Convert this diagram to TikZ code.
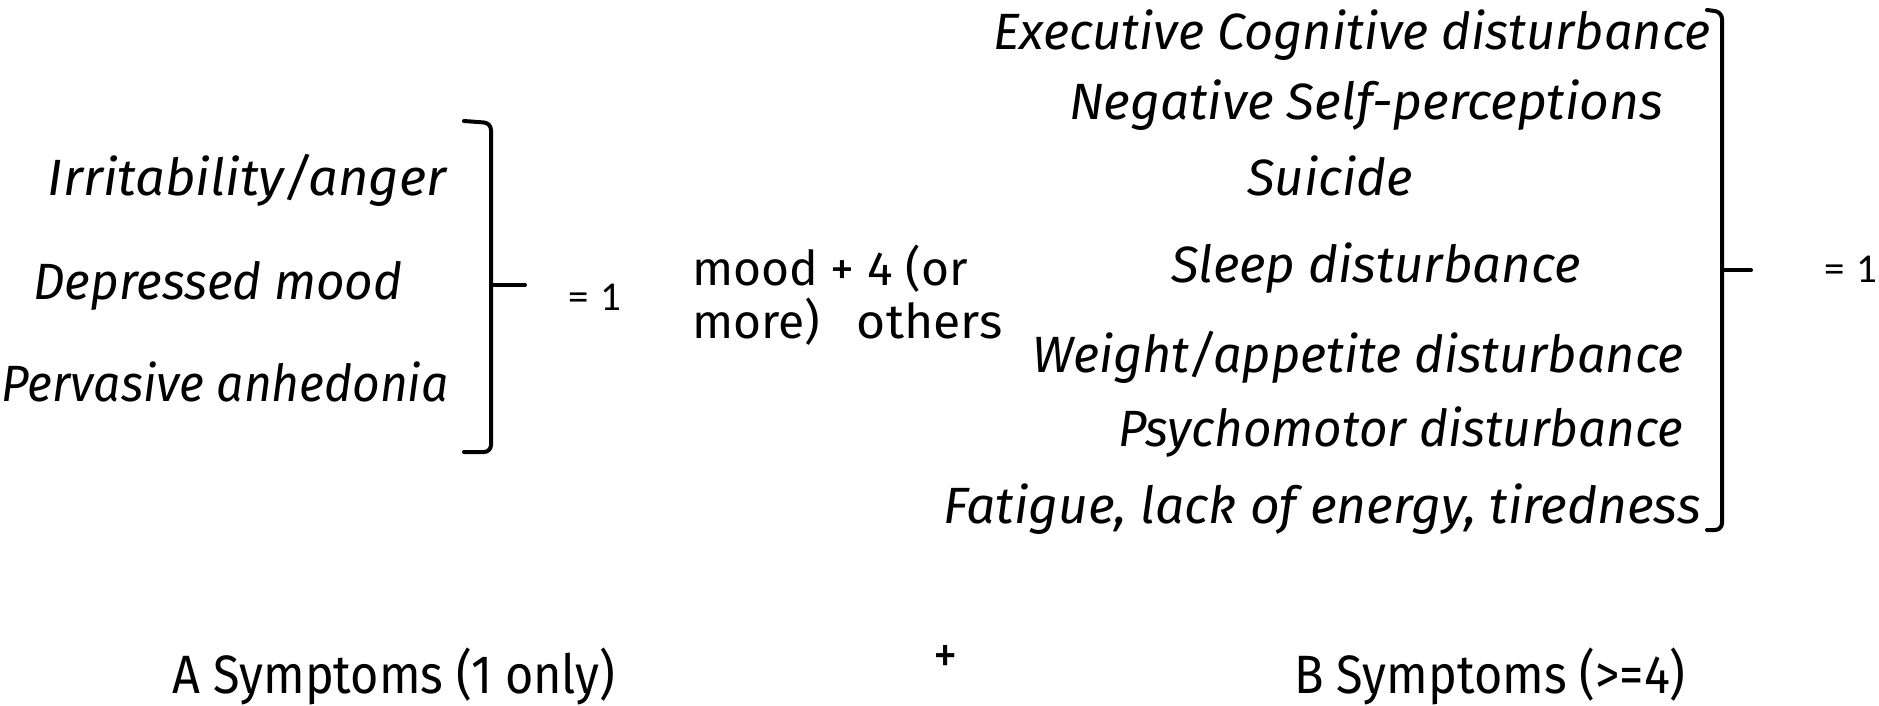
\documentclass[tikz,border=0pt]{standalone}
\usepackage{fontspec}
\setmainfont{Fira Sans}
\newfontfamily\numfont{Carlito}
\begin{document}
\begin{tikzpicture}[x=1pt,y=-1pt,
  item/.style={font=\fontsize{51}{58}\selectfont\itshape, inner sep=0pt, anchor=mid},
  eqlabel/.style={font=\numfont\fontsize{41}{46}\selectfont, inner sep=0pt, anchor=mid},
  note/.style={font=\fontsize{48}{56}\selectfont, inner sep=0pt, anchor=mid west},
  caption/.style={font=\fontsize{54}{60}\selectfont, inner sep=0pt, anchor=mid},
  bracket/.style={line width=4pt, line cap=round, line join=round, rounded corners=7pt}]
\useasboundingbox (0,0) rectangle (1879,706);

% A symptoms
\node[item] (irr) at (247,193) {\scalebox{1.03}[1]{Irritability/anger}};
\node[item] (dep) at (218,297) {\scalebox{0.97}[1]{Depressed mood}};
\node[item] (anh) at (225,399) {\scalebox{0.94}[1]{Pervasive anhedonia}};

\coordinate (la) at (464,121);
\coordinate (lb) at (464,452);
\coordinate (lt) at (525,285);
\draw[bracket] (la) -- (491,123) -- (491,452) -- (lb);
\draw[bracket, rounded corners=0pt] (491,285) -- (lt);
\node[eqlabel] (eqa) at (595,308) {=\;1};

% connecting note
\node[note] (n1) at (692,283) {mood + 4 (or};
\node[note] (n2) at (692,336) {more)\;\: \scalebox{1.04}[1]{others}};

% B symptoms
\node[item] (exe) at (1352,47) {\scalebox{0.99}[1]{Executive Cognitive disturbance}};
\node[item] (neg) at (1366,117) {\scalebox{1.01}[1]{Negative Self-perceptions}};
\node[item] (sui) at (1330,193) {Suicide};
\node[item] (slp) at (1376,280) {Sleep disturbance};
\node[item] (wgt) at (1358,370) {\scalebox{0.99}[1]{Weight/appetite disturbance}};
\node[item] (psy) at (1401,444) {\scalebox{0.97}[1]{Psychomotor disturbance}};
\node[item] (fat) at (1322,521) {\scalebox{1.01}[1]{Fatigue, lack of energy, tiredness}};

\coordinate (ra) at (1707,10);
\coordinate (rb) at (1707,530);
\coordinate (rt) at (1751,270);
\draw[bracket] (ra) -- (1722,12) -- (1722,530) -- (rb);
\draw[bracket, rounded corners=0pt] (1722,270) -- (rt);
\node[eqlabel] (eqb) at (1851,280) {=\;1};

% captions
\node[caption] (capa) at (394,691) {\scalebox{0.9}[1]{A Symptoms (1 only)}};
\node[caption] (plus) at (946,671) {\scalebox{0.9}[1]{+}};
\node[caption] (capb) at (1490,691) {\scalebox{0.9}[1]{B Symptoms (>=4)}};
\end{tikzpicture}
\end{document}
